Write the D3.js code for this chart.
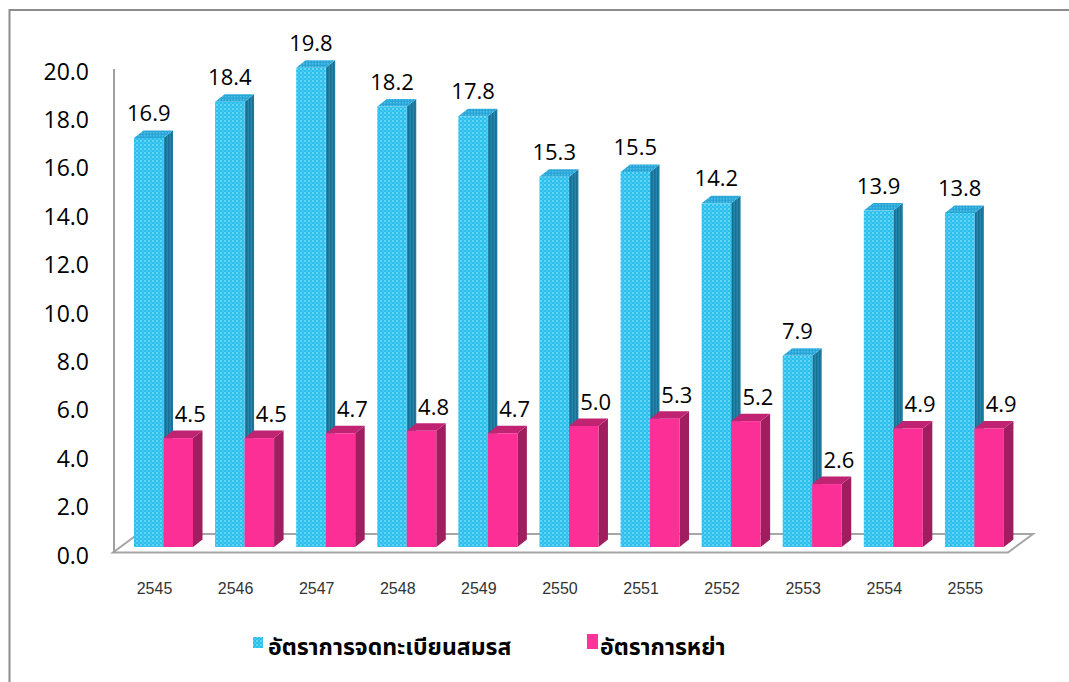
<!DOCTYPE html>
<html>
<head>
<meta charset="utf-8">
<script src="https://cdn.jsdelivr.net/npm/d3@7"></script>
<style>
  html, body { margin: 0; padding: 0; background: #fff; }
  svg { display: block; }
</style>
</head>
<body>
<svg id="chart" width="1069" height="682"></svg>
<script>
const years = ["2545","2546","2547","2548","2549","2550","2551","2552","2553","2554","2555"];
const marriageRate = [16.9, 18.4, 19.8, 18.2, 17.8, 15.3, 15.5, 14.2, 7.9, 13.9, 13.8];
const divorceRate = [4.5, 4.5, 4.7, 4.8, 4.7, 5.0, 5.3, 5.2, 2.6, 4.9, 4.9];
const yTicks = [0, 2, 4, 6, 8, 10, 12, 14, 16, 18, 20];
const seriesNames = ["อัตราการจดทะเบียนสมรส", "อัตราการหย่า"];

const svg = d3.select("#chart");
const defs = svg.append("defs");

// blue checker texture
const pf = defs.append("pattern").attr("id","blueFront").attr("width",4).attr("height",4).attr("patternUnits","userSpaceOnUse");
pf.append("rect").attr("width",4).attr("height",4).attr("fill","#2bbfee");
pf.append("rect").attr("x",0).attr("y",0).attr("width",2).attr("height",2).attr("fill","#62d5f7");
pf.append("rect").attr("x",2).attr("y",2).attr("width",2).attr("height",2).attr("fill","#44c8f2");
const ps = defs.append("pattern").attr("id","blueSide").attr("width",3).attr("height",3).attr("patternUnits","userSpaceOnUse");
ps.append("rect").attr("width",3).attr("height",3).attr("fill","#2286ad");
ps.append("rect").attr("x",0).attr("y",0).attr("width",1.5).attr("height",3).attr("fill","#1a6f92");
const pt = defs.append("pattern").attr("id","blueTop").attr("width",3).attr("height",3).attr("patternUnits","userSpaceOnUse");
pt.append("rect").attr("width",3).attr("height",3).attr("fill","#2aa6d6");
pt.append("rect").attr("width",1.5).attr("height",1.5).attr("fill","#4cc0ea");

// outer border
svg.append("rect").attr("x",9.5).attr("y",10).attr("width",1100).attr("height",700)
  .attr("fill","none").attr("stroke","#8c8c8c").attr("stroke-width",2);

const x = d3.scaleBand().domain(years).range([113, 1005]).padding(0);
const y = d3.scaleLinear().domain([0, 20]).range([552, 68]);

const depthFloor = {dx: 25, dy: -18.5};
const depthBar = {dx: 9.5, dy: -7.5};
const barSetback = 5;
const blueOffset = 21, barW = 29.5;

// floor
const fx0 = x.range()[0], fx1 = x.range()[1] + 3, fy = y(0) + 0.5;
svg.append("polygon")
  .attr("points", [[fx0,fy],[fx1,fy],[fx1+depthFloor.dx,fy+depthFloor.dy],[fx0+depthFloor.dx,fy+depthFloor.dy]].map(p=>p.join(",")).join(" "))
  .attr("fill","#fff").attr("stroke","#a6a6a6").attr("stroke-width",2);

// y axis line
svg.append("line").attr("x1",114).attr("x2",114).attr("y1",y(20)+1).attr("y2",y(0)+1)
  .attr("stroke","#a0a0a0").attr("stroke-width",2);

// y tick labels
svg.append("g").selectAll("text").data(yTicks).join("text")
  .attr("x", 89).attr("y", d => y(d) + 2.5)
  .attr("text-anchor","end").attr("dominant-baseline","central")
  .attr("font-family","'Open Sans', sans-serif").attr("font-size",23).attr("fill","#000")
  .text(d => d.toFixed(1));

// x labels
svg.append("g").selectAll("text").data(years).join("text")
  .attr("x", d => x(d) + 41.5).attr("y", 588)
  .attr("text-anchor","middle").attr("dominant-baseline","central")
  .attr("font-family","'Liberation Sans', Arial, sans-serif").attr("font-size",16).attr("fill","#333")
  .text(d => d);

function drawBar(g, x0, v, fills) {
  const top = y(v) - barSetback, base = y(0) - barSetback;
  const x1 = x0 + barW, dx = depthBar.dx, dy = depthBar.dy;
  g.append("polygon").attr("points", [[x1,top],[x1+dx,top+dy],[x1+dx,base+dy],[x1,base]].map(p=>p.join(",")).join(" "))
    .attr("fill", fills.side);
  g.append("polygon").attr("points", [[x0,top],[x0+dx,top+dy],[x1+dx,top+dy],[x1,top]].map(p=>p.join(",")).join(" "))
    .attr("fill", fills.top);
  g.append("rect").attr("x", x0).attr("y", top).attr("width", barW).attr("height", base - top)
    .attr("fill", fills.front);
}

const bars = svg.append("g");
years.forEach((yr, i) => {
  const g = bars.append("g");
  drawBar(g, x(yr) + blueOffset, marriageRate[i], {front:"url(#blueFront)", side:"url(#blueSide)", top:"url(#blueTop)"});
  drawBar(g, x(yr) + blueOffset + barW, divorceRate[i], {front:"#fb2f95", side:"#a01d5f", top:"#c02372"});
});

// value labels
const labels = svg.append("g").attr("font-family","'Open Sans', sans-serif").attr("font-size",22).attr("fill","#000");
labels.selectAll("text.m").data(years).join("text").attr("class","m")
  .attr("x", d => x(d) + blueOffset + barW/2)
  .attr("y", (d,i) => y(marriageRate[i]) - barSetback - 26)
  .attr("text-anchor","middle").attr("dominant-baseline","central")
  .text((d,i) => marriageRate[i].toFixed(1));
labels.selectAll("text.d").data(years).join("text").attr("class","d")
  .attr("x", d => x(d) + blueOffset + barW*1.5 + 12)
  .attr("y", (d,i) => y(divorceRate[i]) - barSetback - 25)
  .attr("text-anchor","middle").attr("dominant-baseline","central")
  .text((d,i) => divorceRate[i].toFixed(1));

// legend
const leg = svg.append("g");
leg.append("rect").attr("x",253).attr("y",637).attr("width",10).attr("height",11).attr("fill","url(#blueFront)");
leg.append("text").attr("x",268).attr("y",655).attr("font-size",23).attr("font-weight","bold")
  .attr("font-family","'Noto Sans Thai', 'Noto Sans', 'DejaVu Sans', sans-serif").attr("fill","#000")
  .text(seriesNames[0]);
leg.append("rect").attr("x",587).attr("y",634).attr("width",11).attr("height",15).attr("fill","#ff3399");
leg.append("text").attr("x",600).attr("y",655).attr("font-size",23).attr("font-weight","bold")
  .attr("font-family","'Noto Sans Thai', 'Noto Sans', 'DejaVu Sans', sans-serif").attr("fill","#000")
  .text(seriesNames[1]);
</script>
</body>
</html>
